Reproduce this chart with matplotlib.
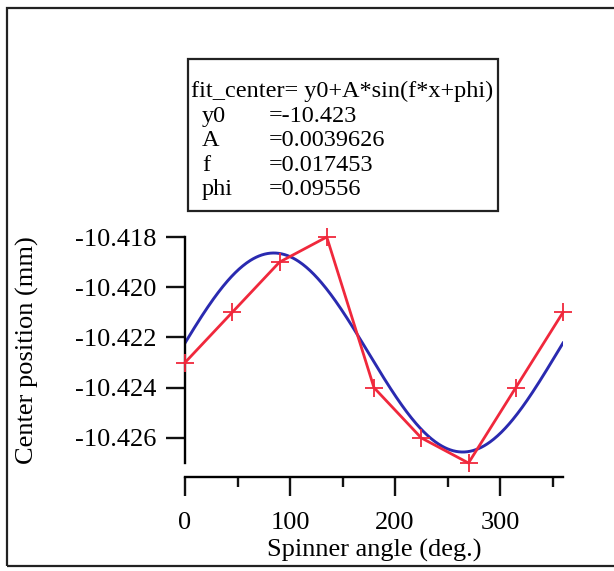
import numpy as np
import matplotlib
matplotlib.use("Agg")
import matplotlib.pyplot as plt
from matplotlib.patches import Rectangle
from matplotlib.ticker import MultipleLocator

# measured data
angle = [0, 45, 90, 135, 180, 225, 270, 315, 360]
center = [-10.423, -10.421, -10.419, -10.418, -10.424, -10.426, -10.427, -10.424, -10.421]

# fit parameters (y0 unrounded, as the drawn curve shows)
y0 = -10.4226
A = 0.0039626
f = 0.017453
phi = 0.09556
par_names = ["y0", "A", "f", "phi"]
par_text = ["=-10.423", "=0.0039626", "=0.017453", "=0.09556"]

plt.rcParams['font.family'] = ['Liberation Serif', 'DejaVu Serif']

W, H = 614, 571
fig = plt.figure(figsize=(W / 100, H / 100), dpi=100)
fig.patch.set_facecolor('white')

# axes placed in pixel terms
left, right, top, bottom = 185, 563, 237, 463
ax = fig.add_axes([left / W, 1 - bottom / H, (right - left) / W, (bottom - top) / H])

xfit = np.linspace(0, 360, 400)
yfit = y0 + A * np.sin(f * xfit + phi)

ax.plot(xfit, yfit, color='#2a2ab0', lw=2.1, zorder=2)
ax.plot(angle, center, color='#f0283c', lw=2.0, marker='+', ms=13, mew=1.3, zorder=3, clip_on=False)

ax.set_xlim(0, 360)
ax.set_ylim(-10.427, -10.418)

for s in ['top', 'right']:
    ax.spines[s].set_visible(False)
ax.spines['bottom'].set_position(('outward', 10))
for s in ['left', 'bottom']:
    ax.spines[s].set_linewidth(1.7)

ax.xaxis.set_major_locator(MultipleLocator(100))
ax.xaxis.set_minor_locator(MultipleLocator(50))
ax.set_yticks([-10.418, -10.420, -10.422, -10.424, -10.426])
ax.set_yticklabels(["-10.418", "-10.420", "-10.422", "-10.424", "-10.426"])
ax.tick_params(axis='both', which='major', direction='out', length=13.5, width=1.7, labelsize=19, color='#111111')
ax.tick_params(axis='x', which='minor', direction='out', length=7, width=1.7, color='#111111')
ax.tick_params(axis='y', pad=7)
ax.tick_params(axis='x', pad=12)

ax.set_xlabel("Spinner angle (deg.)", fontsize=19)
ax.set_ylabel("Center position (mm)", fontsize=19)
ax.xaxis.set_label_coords(0.5, (1 - 550 / H - (1 - bottom / H)) / ((bottom - top) / H), transform=ax.transAxes)
ax.yaxis.set_label_coords((27 - left) / (right - left), 0.5)
ax.xaxis.label.set_va('center')
ax.yaxis.label.set_va('center')

# outer frame of the scanned page
fig.patches.append(Rectangle((7 / W, 1 - 566 / H), 1.0, (566 - 8) / H, transform=fig.transFigure,
                             fill=False, lw=1.6, ec='#222222'))

# fit result box
bx0, bx1, by0, by1 = 188, 498, 59, 211
fig.patches.append(Rectangle((bx0 / W, 1 - by1 / H), (bx1 - bx0) / W, (by1 - by0) / H,
                             transform=fig.transFigure, fill=False, lw=1.6, ec='#222222'))
baselines = [97, 122, 146, 171, 195]
fig.text(191 / W, 1 - baselines[0] / H, "fit_center= y0+A*sin(f*x+phi)", fontsize=17.5, va='baseline')
for i in range(len(par_names)):
    fig.text(202 / W, 1 - baselines[i + 1] / H, par_names[i], fontsize=17.5, va='baseline')
    fig.text(269 / W, 1 - baselines[i + 1] / H, par_text[i], fontsize=17.5, va='baseline')

fig.savefig("out.png", dpi=100)
